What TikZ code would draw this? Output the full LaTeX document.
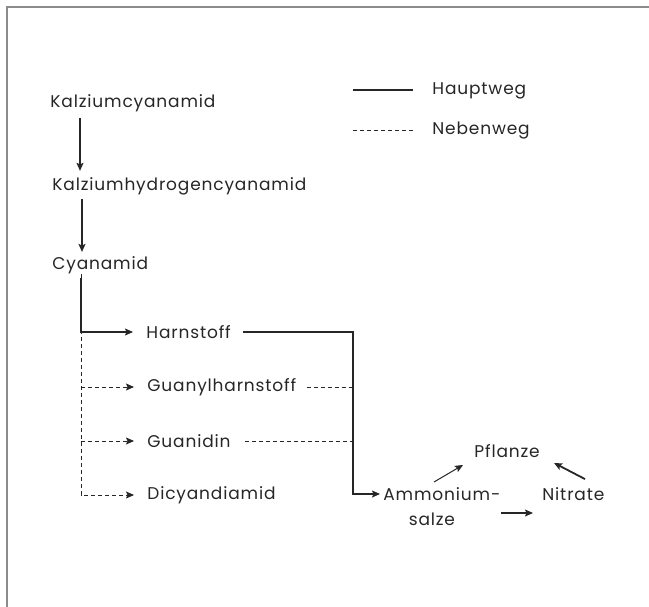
\documentclass[tikz,border=0pt]{standalone}
\usepackage{fontspec}
\setmainfont{Poppins}[LetterSpace=5]
\usepackage{tikz}
\usetikzlibrary{calc,arrows.meta}

\begin{document}
\begin{tikzpicture}[x=1pt,y=-1pt,thick]
      \tikzstyle{stoff} = [anchor=west,inner sep=0pt,text=black!85,font=\fontsize{17}{25}\selectfont]
      \tikzstyle{haupt} = [line width=1.2pt,draw=black!85]
      \tikzstyle{neben} = [line width=0.9pt,draw=black!85,dash pattern=on 4pt off 3pt]
      \tikzstyle{pfeil} = [-{Stealth[length=8pt,width=7pt,inset=1.5pt,fill=black!85]},draw=black!85]
      %
      \useasboundingbox (0,0) rectangle (649,607);
      % Frame.
      \draw[line width=1.5pt,black!45] (7,607) -- (7,7) -- (649,7);

      % Legend.
      \node[stoff] (hw) at (432,91) {Hauptweg};
      \node[stoff] (nw) at (432,131) {Nebenweg};
      \draw[haupt] ($(hw.west)+(-19,-1)$) -- ++(-60,0);
      \draw[neben] ($(nw.west)+(-19,-1)$) -- ++(-60,0);

      % Main chain.
      \node[stoff] (kcy) at (50,103) {Kalziumcyanamid};
      \node[stoff] (khc) at (52,186) {Kalziumhydrogencyanamid};
      \node[stoff] (cya) at (52,265) {Cyanamid};

      % Products.
      \node[stoff] (harn) at (146,332) {Harnstoff};
      \node[stoff] (guhn) at (147,387) {Guanylharnstoff};
      \node[stoff] (guan) at (147,441) {Guanidin};
      \node[stoff] (dicy) at (147,495) {Dicyandiamid};
      \node[stoff,align=center,anchor=north west] (amm) at (383,487) {Ammonium-\\salze\hspace*{20pt}};
      \node[stoff] (pfl) at (474,451) {Pflanze};
      \node[stoff] (nit) at (542,494) {Nitrate};

      % Connections.
      \draw[haupt,pfeil] ($(kcy.south west)+(30,6)$) -- ($(khc.north west)+(28,-6)$);
      \draw[haupt,pfeil] ($(khc.south west)+(30,4)$) -- ($(cya.north west)+(30,-4)$);
      \coordinate (split) at ($(cya.south west)+(29,0)$ |- harn.west);
      \coordinate (join) at (353,332);
      \draw[haupt,pfeil] ($(cya.south west)+(29,4)$) |- ($(harn.west)+(-13,0)$);
      \draw[neben,pfeil] (split) |- ($(dicy.west)+(-13,0)$);
      \draw[neben,pfeil] (split |- guhn.west) -- ($(guhn.west)+(-13,0)$);
      \draw[neben,pfeil] (split |- guan.west) -- ($(guan.west)+(-13,0)$);
      \draw[haupt,pfeil] ($(harn.east)+(12,0)$) -| (join) |- ($(amm.north west)+(-3,7)$);
      \draw[neben] ($(guhn.east)+(10,0)$) -- (join |- guhn.east);
      \draw[neben] ($(guan.east)+(14,0)$) -- (join |- guan.east);
      \draw[pfeil,line width=1pt] ($(amm.north west)+(51,-5)$) -- ($(pfl.south west)+(-11,7)$);
      \draw[pfeil,line width=1.8pt] ($(nit.north west)+(43,-8)$) -- ($(pfl.south west)+(80,5)$);
      \draw[pfeil,line width=1.2pt] ($(nit.west)+(-41,19)$) -- ($(nit.west)+(-9,19)$);
\end{tikzpicture}
\end{document}
